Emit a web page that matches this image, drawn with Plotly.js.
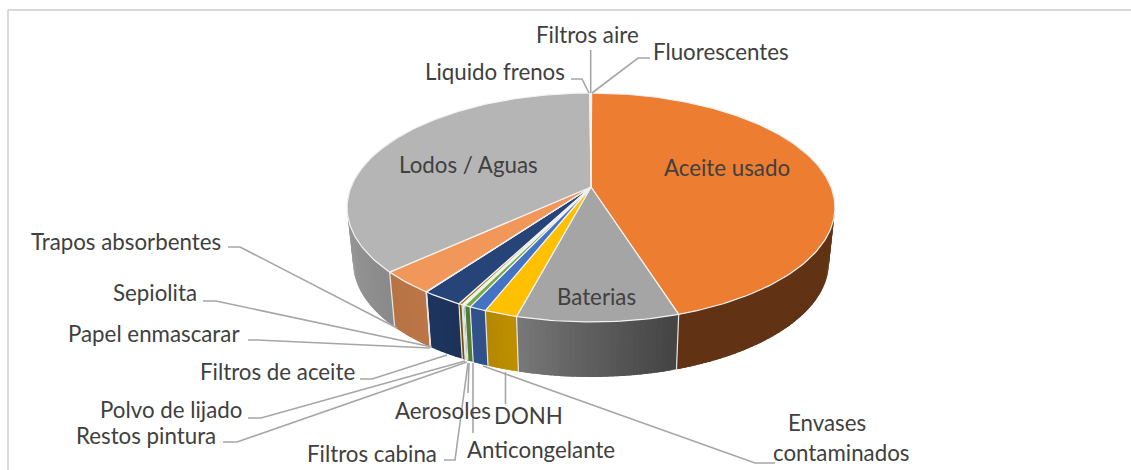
<!DOCTYPE html>
<html><head><meta charset="utf-8">
<script src="https://cdn.plot.ly/plotly-3.0.1.min.js"></script>
<style>html,body{margin:0;padding:0;background:#fff;overflow:hidden}</style>
</head><body><div id="chart" style="width:1131px;height:470px"></div>
<script>
// ---- data (clockwise from 12 o'clock) ----
const categories = ["Fluorescentes","Aceite usado","Baterias","DONH","Envases contaminados","Anticongelante","Aerosoles","Filtros cabina","Restos pintura","Polvo de lijado","Filtros de aceite","Papel enmascarar","Sepiolita","Trapos absorbentes","Lodos / Aguas","Liquido frenos","Filtros aire"];
const values = [0.05,45.05,9.03,1.85,0.95,0.35,0.08,0.05,0.05,0.2,2.3,0.02,0.02,3.2,36.71,0.02,0.07];
const colors = ["#5B9BD5","#ED7D31","#A5A5A5","#FFC000","#4472C4","#70AD47","#255E91","#9E480E","#636363","#997300","#264478","#43682B","#7CAFDD","#F1975A","#B5B5B5","#FFCD33","#698ED0"];

// ---- label layout: [text, x, y] in page pixels ----
const labelPos = [
 ["Filtros aire",587,34],["Fluorescentes",721,51],["Liquido frenos",495,71],
 ["Aceite usado",727,167],["Lodos / Aguas",468,164],["Baterias",596,296],
 ["Trapos absorbentes",126,241],["Sepiolita",155,292],["Papel enmascarar",154,333],
 ["Filtros de aceite",277,371],["Polvo de lijado",171,409],["Restos pintura",146,435],
 ["Filtros cabina",372,453],["Aerosoles",443,410],["DONH",528,415],
 ["Anticongelante",541,449],["Envases",827,422],["contaminados",841,452]
];
// ---- leader paths ----
const leaders = [
 [[590.7,50],[590.7,93]],
 [[650,58],[638,58],[592,93]],
 [[571,79],[582,79],[589,93]],
 [[228,247],[240,247],[397,328]],
 [[203,301],[216,301],[432,347]],
 [[248,340],[257,340],[430,348]],
 [[360,379],[372,379],[447,355]],
 [[248,418],[261,418],[465,361]],
 [[223,442],[237,442],[467,362]],
 [[444,460],[455,460],[468,363]],
 [[468,393],[469,363]],
 [[473,433],[473,363]],
 [[505.5,404],[505.5,372]],
 [[775,463],[755,463],[483,366]]
];
// ---- projection of the tilted pie ----
const cx=591, cy=187, A=110.8, B=240, K=0.179, depth=55, shrink=0.975;
function proj(deg,low){
  const t=deg*Math.PI/180, u=Math.sin(t), v=-Math.cos(t), d=1-K*v;
  let X=B*u/d, Y=A*v/d;
  if(low){X*=shrink;Y+=depth;}
  return [cx+X,cy+Y];
}
// side-wall lighting: [angle, brightness]
const shadeStops=[[0,.40],[162,.41],[180,.58],[195,.74],[201,.70],[215,.78],[227,.76],[270,.88],[360,.88]];
function shade(a){
  for(let i=1;i<shadeStops.length;i++){
    if(a<=shadeStops[i][0]){
      const p=shadeStops[i-1],q=shadeStops[i];
      return p[1]+(q[1]-p[1])*(a-p[0])/(q[0]-p[0]);
    }
  }
  return .88;
}
function dim(hex,f){
  const n=parseInt(hex.slice(1),16);
  return `rgb(${Math.round((n>>16)*f)},${Math.round(((n>>8)&255)*f)},${Math.round((n&255)*f)})`;
}
const total=values.reduce((a,b)=>a+b,0);
let acc=0;
const slices=values.map((v,i)=>{const s=acc/total*360;acc+=v;return {i,s,e:acc/total*360,c:colors[i]};});

const traces=[];
const poly=(pts,fill,lc,lw)=>traces.push({type:"scatter",mode:"lines",x:pts.map(p=>p[0]),y:pts.map(p=>p[1]),
  fill:fill?"toself":"none",fillcolor:fill||undefined,line:{color:lc,width:lw},hoverinfo:"skip",showlegend:false});

// walls: facets overlap the next one so no seams show
const wallMin=60, wallMax=300, step=1.2;
slices.forEach(sl=>{
  const a=Math.max(sl.s,wallMin), b=Math.min(sl.e,wallMax);
  if(b<=a) return;
  const n=Math.max(1,Math.ceil((b-a)/step));
  for(let j=n-1;j>=0;j--){
    const p=a+(b-a)*j/n, q=a+(b-a)*(j+1)/n;
    const qq=Math.min(b,q+1);
    const col=dim(sl.c,shade((p+q)/2));
    poly([proj(p),proj(qq),proj(qq,true),proj(p,true),proj(p)],col,col,0);
  }
});
// wall edges
slices.forEach(sl=>{
  if(sl.e>=wallMin && sl.e<=wallMax && sl.i<values.length-1){
    poly([proj(sl.e),proj(sl.e,true)],null,"#e6e6e6",1.2);
  }
});
// top faces
slices.forEach(sl=>{
  const pts=[[cx,cy]];
  const n=Math.max(1,Math.ceil((sl.e-sl.s)/1));
  for(let j=0;j<=n;j++) pts.push(proj(sl.s+(sl.e-sl.s)*j/n));
  pts.push([cx,cy]);
  poly(pts,sl.c,"#f2f2f2",1.2);
});
// leaders
leaders.forEach(l=>poly(l,null,"#A6A6A6",1.6));

const layout={
  width:1131,height:470,margin:{l:0,r:0,t:0,b:0},paper_bgcolor:"#fff",plot_bgcolor:"#fff",showlegend:false,
  xaxis:{range:[0,1131],visible:false,fixedrange:true},
  yaxis:{range:[470,0],visible:false,fixedrange:true},
  shapes:[
    {type:"line",xref:"x",yref:"y",x0:8,x1:8,y0:10,y1:470,line:{color:"#D9D9D9",width:2}},
    {type:"line",xref:"x",yref:"y",x0:8,x1:1131,y0:10,y1:10,line:{color:"#D9D9D9",width:2}}
  ],
  annotations:labelPos.map(l=>({text:l[0],x:l[1],y:l[2],xref:"x",yref:"y",showarrow:false,xanchor:"center",yanchor:"middle",
    font:{family:"Lato, 'Open Sans', sans-serif",size:22.3,color:"#404040"}}))
};
Plotly.newPlot("chart",traces,layout,{displayModeBar:false,staticPlot:true});
</script></body></html>
